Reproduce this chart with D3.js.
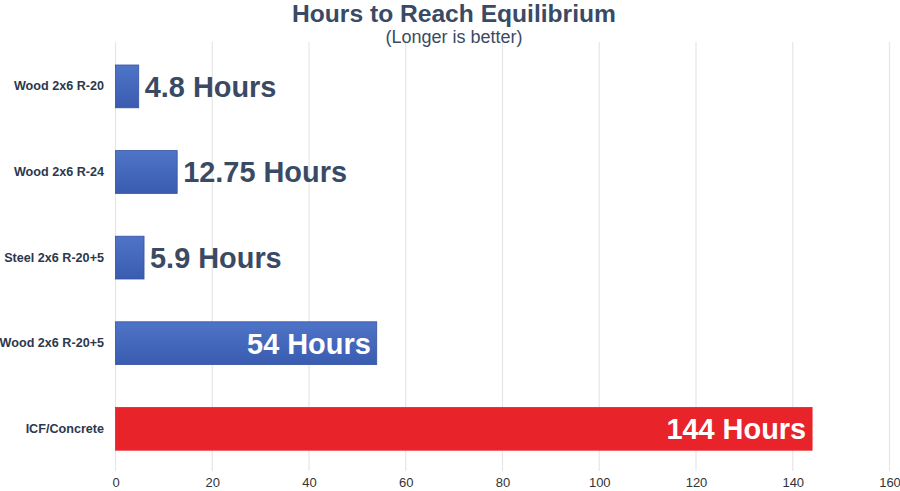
<!DOCTYPE html>
<html><head><meta charset="utf-8">
<script src="https://cdn.jsdelivr.net/npm/d3@7"></script>
<style>body{margin:0;background:#fff;} text{font-family:"Liberation Sans",Arial,Helvetica,sans-serif;}</style>
</head><body>
<svg id="c" width="900" height="491"></svg>
<script>
const categories = ["Wood 2x6 R-20","Wood 2x6 R-24","Steel 2x6 R-20+5","Wood 2x6 R-20+5","ICF/Concrete"];
const values = [4.8, 12.75, 5.9, 54, 144];
const valueLabels = ["4.8 Hours","12.75 Hours","5.9 Hours","54 Hours","144 Hours"];
const labelInside = [false,false,false,true,true];
const highlight = [false,false,false,false,true];
const ticks = [0,20,40,60,80,100,120,140,160];
const title = "Hours to Reach Equilibrium";
const subtitle = "(Longer is better)";

const svg = d3.select("#c");
const x = d3.scaleLinear().domain([0,160]).range([115.5, 889.5]);
const y = d3.scaleBand().domain(categories).range([43.6, 471.6]).paddingInner(0.5).paddingOuter(0.25);

const defs = svg.append("defs");
const g = defs.append("linearGradient").attr("id","blueG").attr("x1",0).attr("y1",0).attr("x2",0).attr("y2",1);
g.append("stop").attr("offset","0%").attr("stop-color","#4e74c8");
g.append("stop").attr("offset","100%").attr("stop-color","#3a5cb0");

// grid
svg.append("g").selectAll("line").data(ticks).join("line")
  .attr("x1",d=>x(d)).attr("x2",d=>x(d)).attr("y1",42).attr("y2",471)
  .attr("stroke","#e6e6e6").attr("stroke-width",1.2);

// axis labels
const ax = svg.append("g").attr("transform","translate(0,469)")
  .call(d3.axisBottom(x).tickValues(ticks).tickSize(0).tickPadding(9));
ax.select(".domain").remove();
ax.selectAll("text").attr("font-size",13).attr("fill","#333").attr("font-family","Liberation Sans, Arial, sans-serif");

// category labels
const ay = svg.append("g").attr("transform","translate(104,0)")
  .call(d3.axisLeft(y).tickSize(0).tickPadding(0));
ay.select(".domain").remove();
ay.selectAll("text").attr("font-size",12.6).attr("font-weight","bold").attr("fill","#2c384d").attr("font-family","Liberation Sans, Arial, sans-serif");

// bars
svg.append("g").selectAll("rect").data(values).join("rect")
  .attr("x",x(0)).attr("y",(d,i)=>y(categories[i]))
  .attr("width",d=>x(d)-x(0)).attr("height",y.bandwidth())
  .attr("fill",(d,i)=>highlight[i]?"#e8232a":"url(#blueG)")
  .attr("stroke",(d,i)=>highlight[i]?"#e8232a":"#3453a0").attr("stroke-width",0.8);

// value labels
svg.append("g").selectAll("text").data(values).join("text")
  .attr("x",(d,i)=>labelInside[i]? x(d)-6 : x(d)+6)
  .attr("y",(d,i)=>y(categories[i])+y.bandwidth()/2)
  .attr("dy","0.36em")
  .attr("text-anchor",(d,i)=>labelInside[i]?"end":"start")
  .attr("font-size",28.9).attr("font-weight","bold")
  .attr("fill",(d,i)=>labelInside[i]?"#ffffff":"#3a4a64")
  .text((d,i)=>valueLabels[i]);

svg.append("text").attr("x",454).attr("y",22).attr("text-anchor","middle")
  .attr("font-size",24.6).attr("font-weight","bold").attr("fill","#3a4a64").text(title);
svg.append("text").attr("x",454).attr("y",43).attr("text-anchor","middle")
  .attr("font-size",18).attr("fill","#3a4a64").text(subtitle);
</script>
</body></html>
